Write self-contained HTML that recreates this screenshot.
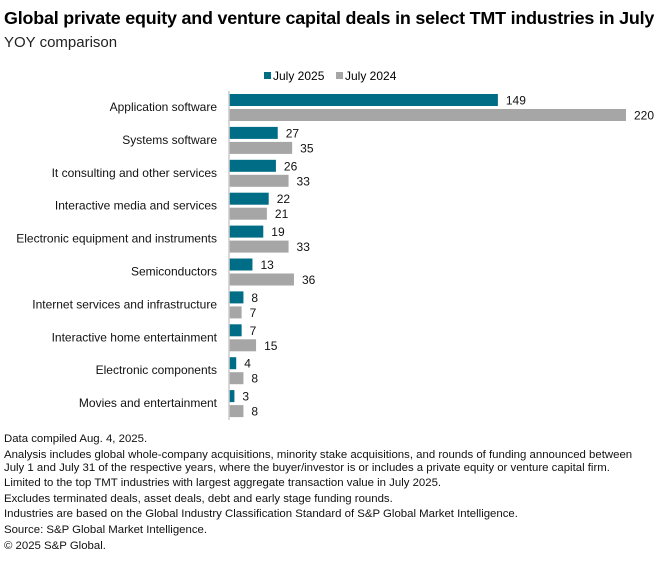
<!DOCTYPE html>
<html><head><meta charset="utf-8"><style>
body{margin:0;background:#fff;font-family:"Liberation Sans",sans-serif;color:#000}
#wrap{position:relative;width:660px;height:565px;overflow:hidden}
.t{position:absolute;left:4px;top:8px;font-size:17.9px;font-weight:bold;white-space:nowrap;letter-spacing:-0.2px}
.s{position:absolute;left:4px;top:34px;font-size:15px;color:#222}
.notes{position:absolute;left:4px;top:433px;font-size:11.4px;line-height:13px;color:#111;white-space:nowrap}
.notes div{margin-bottom:2.6px}
</style></head><body>
<div id="wrap">
<div class="t">Global private equity and venture capital deals in select TMT industries in July</div>
<div class="s">YOY comparison</div>
<svg id="chart" width="660" height="430" style="position:absolute;left:0;top:0"></svg>
<div class="notes">
<div>Data compiled Aug. 4, 2025.</div>
<div>Analysis includes global whole-company acquisitions, minority stake acquisitions, and rounds of funding announced between<br>July 1 and July 31 of the respective years, where the buyer/investor is or includes a private equity or venture capital firm.</div>
<div>Limited to the top TMT industries with largest aggregate transaction value in July 2025.</div>
<div>Excludes terminated deals, asset deals, debt and early stage funding rounds.</div>
<div>Industries are based on the Global Industry Classification Standard of S&amp;P Global Market Intelligence.</div>
<div>Source: S&amp;P Global Market Intelligence.</div>
<div>© 2025 S&amp;P Global.</div>
</div>
</div>
<script>
const categories=["Application software","Systems software","It consulting and other services","Interactive media and services","Electronic equipment and instruments","Semiconductors","Internet services and infrastructure","Interactive home entertainment","Electronic components","Movies and entertainment"];
const seriesNames=["July 2025","July 2024"];
const values2025=[149,27,26,22,19,13,8,7,4,3];
const values2024=[220,35,33,21,33,36,7,15,8,8];
const colors=["#006d86","#a6a6a6"];
const NS="http://www.w3.org/2000/svg";
const svg=document.getElementById('chart');
const x0=229, scale=(626-229)/220, top0=94, pitch=32.9, bh=13;
const xs=v=>x0+v*scale;
function mk(tag,attrs){const e=document.createElementNS(NS,tag);for(const k in attrs)e.setAttribute(k,attrs[k]);svg.appendChild(e);return e;}
seriesNames.forEach((n,i)=>{
 const lx=[264,336][i];
 const r=mk('rect',{x:lx,y:72,width:7,height:7,fill:colors[i]});
 
 
 const t=mk('text',{x:lx+9,y:80,'font-size':12,'font-family':'Liberation Sans, sans-serif'});
 t.textContent=n;
 
 
});
categories.forEach((c,i)=>{
 const y=top0+i*pitch;
 const lab=mk('text',{x:217,y:y+17,'text-anchor':'end','font-size':12,'font-family':'Liberation Sans, sans-serif',fill:'#111'});
 lab.textContent=c;
 
 
 [values2025[i],values2024[i]].forEach((v,j)=>{
  const by=y+j*15;
  const b=mk('rect',{x:x0,y:by,width:xs(v)-x0,height:bh-1,fill:colors[j]});
  
  
  const vt=mk('text',{x:xs(v)+8,y:by+10.5,'font-size':12,'font-family':'Liberation Sans, sans-serif',fill:'#111'});
  vt.textContent=v;
  
  
 });
});
const ax=mk('line',{x1:x0,x2:x0,y1:91,y2:top0+categories.length*pitch-3,stroke:'#ccc','stroke-width':1.5});


</script>
</body></html>
